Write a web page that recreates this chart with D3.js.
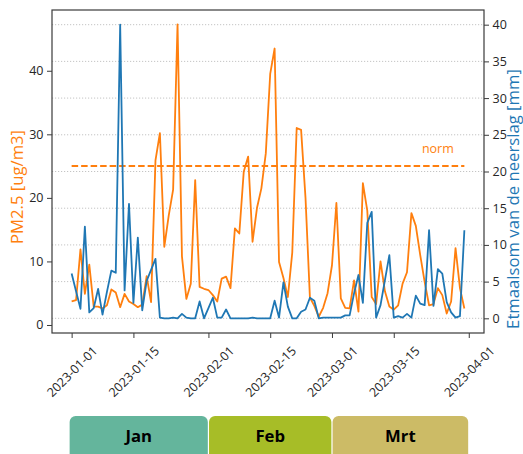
<!DOCTYPE html>
<html><head><meta charset="utf-8">
<script src="https://cdn.jsdelivr.net/npm/d3@7"></script>
<style>body{margin:0;background:#fff}svg{display:block;font-family:"Open Sans",sans-serif}</style>
</head><body><svg id="c" width="523" height="454"></svg>
<script>
const startDate = "2023-01-01";
const pm25 = [
  3.7, 3.9, 11.9, 4.9, 9.5, 2.9, 2.9, 2.6, 3.1, 5.6,
  5.1, 2.8, 4.9, 3.7, 3.3, 2.8, 3.2, 7.7, 3.6, 25.9,
  30.2, 12.3, 17.2, 21.3, 47.3, 10.8, 4.1, 6.5, 22.8, 6.0,
  5.7, 5.5, 4.7, 3.7, 7.3, 7.6, 5.8, 15.2, 14.4, 24.1,
  26.5, 13.1, 18.4, 21.5, 27.0, 39.5, 43.5, 9.9, 7.4, 4.4,
  11.4, 31.0, 30.7, 20.0, 4.3, 3.0, 1.3, 2.7, 5.0, 9.4,
  19.2, 4.2, 2.7, 2.6, 7.0, 2.1, 22.3, 18.0, 4.4, 3.3,
  10.0, 5.3, 2.9, 2.4, 3.1, 6.5, 8.3, 17.6, 15.6, 11.0,
  6.8, 3.1, 3.3, 5.8, 4.7, 1.8, 3.7, 12.1, 5.8, 2.6
];
const rain = [
  6.1, 3.7, 1.3, 12.5, 0.8, 1.4, 4.0, 0.5, 3.6, 6.5,
  6.2, 40.0, 3.8, 15.6, 2.1, 11.0, 1.1, 5.1, 6.6, 8.1,
  0.1, 0.0, 0.0, 0.1, 0.0, 0.6, 0.1, 0.0, 0.0, 2.3,
  0.0, 1.4, 2.8, 0.1, 0.1, 1.2, 0.0, 0.0, 0.0, 0.0,
  0.0, 0.1, 0.0, 0.0, 0.0, 0.0, 2.4, 0.1, 4.9, 1.6,
  0.0, 0.0, 0.9, 1.2, 2.8, 2.4, 0.0, 0.1, 0.1, 0.1,
  0.1, 0.1, 0.4, 0.4, 3.4, 5.9, 2.1, 13.0, 14.5, 0.1,
  1.8, 5.2, 8.6, 0.1, 0.3, 0.1, 0.6, 0.1, 3.1, 2.0,
  1.8, 12.0, 1.7, 6.7, 6.1, 2.2, 0.8, 0.1, 0.3, 12.0
];
const normValue = 25;
const normLabel = "norm";
const xTickLabels = ["2023-01-01","2023-01-15","2023-02-01","2023-02-15","2023-03-01","2023-03-15","2023-04-01"];
const leftTicks = [0, 10, 20, 30, 40];
const rightTicks = [0, 5, 10, 15, 20, 25, 30, 35, 40];
const months = ["Jan", "Feb", "Mrt"];
const monthStarts = ["2023-01-01", "2023-02-01", "2023-03-01", "2023-04-01"];
const monthColors = ["#64b59c", "#a7bd27", "#ccbb66"];
const leftLabel = "PM2.5 [ug/m3]";
const rightLabel = "Etmaalsom van de neerslag [mm]";

const ORANGE = "#ff7f0e", BLUE = "#1f77b4";
const parse = d3.utcParse("%Y-%m-%d");
const t0 = parse(startDate);
const dates = pm25.map((_, i) => d3.utcDay.offset(t0, i));

const svg = d3.select("#c");
const m = {l: 52, r: 484, t: 10, b: 333};
const tMin = dates[0], tMax = dates[dates.length - 1];
const span = tMax - tMin;
const x = d3.scaleUtc().domain([new Date(+tMin - 0.05 * span), new Date(+tMax + 0.05 * span)]).range([m.l, m.r]);
const yL = d3.scaleLinear().domain([-1.26, 49.56]).range([m.b, m.t]);
const yR = d3.scaleLinear().domain([-2, 42]).range([m.b, m.t]);

// grid (right axis)
svg.append("g").selectAll("line").data(rightTicks).join("line")
  .attr("x1", m.l).attr("x2", m.r)
  .attr("y1", d => yR(d)).attr("y2", d => yR(d))
  .attr("stroke", "#c4c4c4").attr("stroke-width", 1).attr("stroke-dasharray", "1.2,1.8");

// norm line
svg.append("line")
  .attr("x1", x(dates[0])).attr("x2", x(dates[dates.length - 1]))
  .attr("y1", yL(normValue)).attr("y2", yL(normValue))
  .attr("stroke", ORANGE).attr("stroke-width", 2).attr("stroke-dasharray", "6.5,3");
svg.append("text").attr("x", x(dates[83])).attr("y", yL(normValue) - 13)
  .attr("text-anchor", "middle").attr("fill", ORANGE).attr("font-size", "12.5px").text(normLabel);

// lines
svg.append("path").datum(pm25)
  .attr("fill", "none").attr("stroke", ORANGE).attr("stroke-width", 1.8).attr("stroke-linejoin", "round")
  .attr("d", d3.line().x((d, i) => x(dates[i])).y(d => yL(d)));
svg.append("path").datum(rain)
  .attr("fill", "none").attr("stroke", BLUE).attr("stroke-width", 1.8).attr("stroke-linejoin", "round")
  .attr("d", d3.line().x((d, i) => x(dates[i])).y(d => yR(d)));

// frame
svg.append("rect").attr("x", m.l).attr("y", m.t).attr("width", m.r - m.l).attr("height", m.b - m.t)
  .attr("fill", "none").attr("stroke", "#3a3a3a").attr("stroke-width", 1.2);

function styleAxis(g) {
  g.select(".domain").remove();
  g.selectAll(".tick line").attr("stroke", "#3a3a3a").attr("stroke-width", 1);
  g.selectAll(".tick text").attr("fill", "#262626").attr("font-size", "12.5px").attr("font-family", '"Open Sans",sans-serif');
}
svg.append("g").attr("transform", `translate(${m.l},0)`)
  .call(d3.axisLeft(yL).tickValues(leftTicks).tickSize(5).tickPadding(3.5)).call(styleAxis);
svg.append("g").attr("transform", `translate(${m.r},0)`)
  .call(d3.axisRight(yR).tickValues(rightTicks).tickSize(5).tickPadding(3.5)).call(styleAxis);
const gx = svg.append("g").attr("transform", `translate(0,${m.b})`)
  .call(d3.axisBottom(x).tickValues(xTickLabels.map(parse)).tickFormat((d, i) => xTickLabels[i]).tickSize(5))
  .call(styleAxis);
gx.selectAll(".tick text")
  .attr("y", null).attr("dy", null)
  .attr("text-anchor", "middle").attr("dominant-baseline", "central")
  .attr("transform", "translate(0,38.5) rotate(-45)");

// axis labels
svg.append("text").attr("transform", "translate(16,187) rotate(-90)")
  .attr("text-anchor", "middle").attr("dominant-baseline", "central")
  .attr("fill", ORANGE).attr("font-size", "16.7px").text(leftLabel);
svg.append("text").attr("transform", "translate(519,199) rotate(-90)")
  .attr("text-anchor", "middle")
  .attr("fill", BLUE).attr("font-size", "16.7px").text(rightLabel);

// month boxes
const mg = svg.append("g");
months.forEach((name, i) => {
  const a = x(parse(monthStarts[i])), b = x(parse(monthStarts[i + 1]));
  const x0 = (i === 0 ? a - 2 : a + 0.6), x1 = b - 0.6;
  mg.append("rect").attr("x", x0).attr("y", 416).attr("width", x1 - x0).attr("height", 48)
    .attr("rx", 6).attr("fill", monthColors[i]);
  mg.append("text").attr("x", (x0 + x1) / 2).attr("y", 441.7)
    .attr("text-anchor", "middle").attr("font-weight", "bold").attr("font-size", "16.7px")
    .attr("fill", "#000").text(name);
});
</script></body></html>
